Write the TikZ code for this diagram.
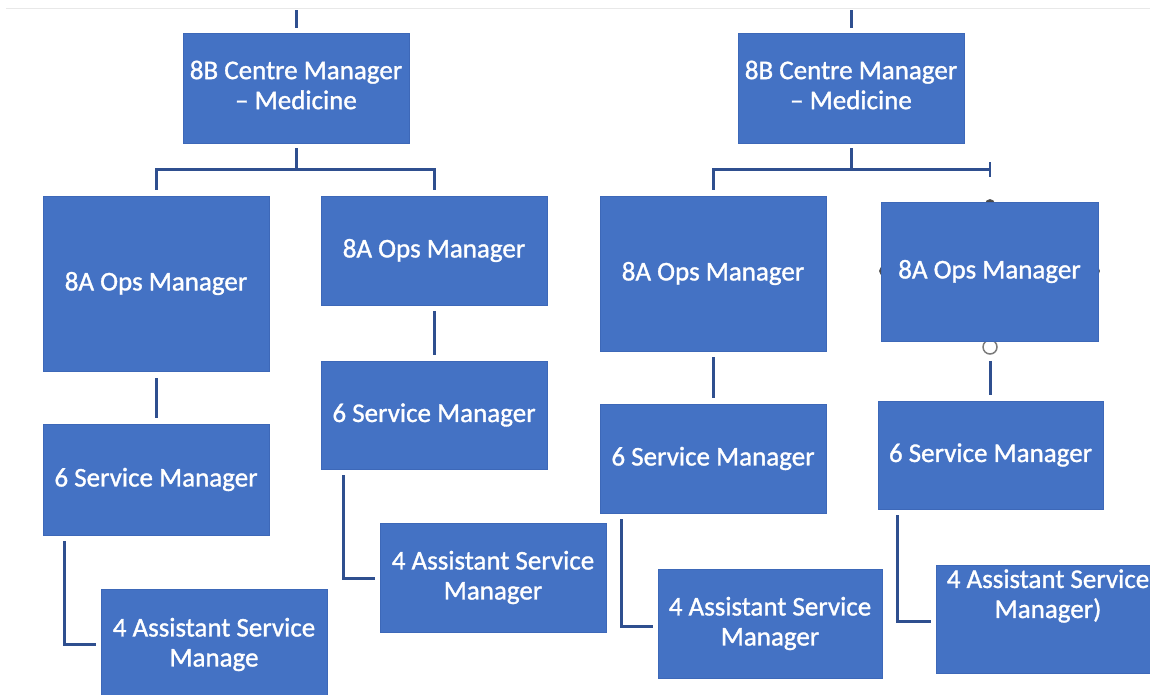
\documentclass[tikz,border=0pt]{standalone}
\usepackage{fontspec}
\setmainfont{Carlito}
\newfontfamily\boxfont{Carlito}[FakeBold=1.2]
\definecolor{boxblue}{HTML}{4472C4}
\definecolor{boxedge}{HTML}{3D68B8}
\definecolor{lineblue}{HTML}{2F4F8F}
\definecolor{handlegray}{HTML}{7A7A7A}
\begin{document}
\begin{tikzpicture}[x=1pt,y=-1pt,
  boxtext/.style={text=white, align=center, font=\fontsize{27}{30}\selectfont\boxfont},
  box/.style={rectangle, fill=boxblue, draw=boxedge, line width=0.8pt, inner sep=0pt, boxtext},
  conn/.style={draw=lineblue, line width=3pt},
  handle/.style={circle, draw=handlegray, fill=white, line width=1.5pt, minimum size=14pt, inner sep=0pt},
  sidehandle/.style={circle, draw=handlegray!70!black, fill=handlegray!60!black, line width=0.8pt, minimum size=9pt, inner sep=0pt}]
\useasboundingbox (0,0) rectangle (1150,695);
\clip (0,0) rectangle (1150,695);
\fill[white] (0,0) rectangle (1150,695);
% faint top edge
\draw[gray!18, line width=1pt] (6,9) -- (1150,9);

% selection handles (behind box)
\node[sidehandle] (h1) at (990,204) {};
\node[handle] (h2) at (990,347) {};
\node[sidehandle] (h3) at (884,271) {};
\node[sidehandle] (h4) at (1095,271) {};

% boxes
\node[box, minimum width=226pt, minimum height=110pt] (lc) at (296,88) {};
\node[boxtext, inner sep=0pt] (lct) at (296,85) {8B Centre Manager\\– Medicine};
\node[box, minimum width=226pt, minimum height=110pt] (rc) at (851,88) {};
\node[boxtext, inner sep=0pt] (rct) at (851,85) {8B Centre Manager\\– Medicine};
\node[box, minimum width=226pt, minimum height=175pt] (lo1) at (156,283.5) {8A Ops Manager};
\node[box, minimum width=226pt, minimum height=109pt] (lo2) at (434,250.5) {8A Ops Manager};
\node[box, minimum width=226pt, minimum height=155pt] (ro1) at (713,273.5) {8A Ops Manager};
\node[box, minimum width=217pt, minimum height=139pt] (ro2) at (989.5,271.5) {8A Ops Manager};
\node[box, minimum width=226pt, minimum height=111pt] (ls1) at (156,479.5) {6 Service Manager};
\node[box, minimum width=226pt, minimum height=108pt] (ls2) at (434,415) {6 Service Manager};
\node[box, minimum width=226pt, minimum height=109pt] (rs1) at (713,458.5) {6 Service Manager};
\node[box, minimum width=225pt, minimum height=108pt] (rs2) at (990.5,455) {6 Service Manager};
\node[box, minimum width=226pt, minimum height=111pt] (la1) at (214,644.5) {4 Assistant Service\\Manage};
\node[box, minimum width=226pt, minimum height=109pt] (la2) at (493,577.5) {4 Assistant Service\\Manager};
\node[box, minimum width=224pt, minimum height=109pt] (ra1) at (770,623.5) {4 Assistant Service\\Manager};
\node[box, minimum width=224pt, minimum height=108pt] (ra2) at (1048,619) {};
\node[boxtext, inner sep=0pt] (ra2t) at (1048,596) {4 Assistant Service\\Manager)};

% top free ends
\coordinate (ltop) at (296,10);
\coordinate (rtop) at (851,10);
\draw[conn, shorten <=5pt] (lc.north) -- (ltop);
\draw[conn, shorten <=5pt] (rc.north) -- (rtop);

% left tree
\coordinate (lbar) at (296,170);
\draw[conn, shorten <=5pt] (lc.south) -- (lbar);
\draw[conn, shorten <=6pt, shorten >=6pt] (lo1.north) |- (lbar) -| (lo2.north);

% right tree
\coordinate (rbar) at (851,170);
\coordinate (rend) at (990,170);
\draw[conn, shorten <=5pt] (rc.south) -- (rbar);
\draw[conn, shorten <=6pt] (ro1.north) |- (rbar) -- (rend);
\draw[draw=lineblue, line width=2.5pt] ([yshift=-7pt]rend) -- ([yshift=8pt]rend);

% ops to service
\draw[conn, shorten <=7pt, shorten >=6pt] (lo1.south) -- (ls1.north);
\draw[conn, shorten <=6pt, shorten >=6pt] (lo2.south) -- (ls2.north);
\draw[conn, shorten <=6pt, shorten >=6pt] (ro1.south) -- (rs1.north);
\draw[conn, shorten <=6pt, shorten >=6pt] (h2.south) -- (h2.south |- rs2.north);

% service to assistant (elbows)
\draw[conn, shorten <=6pt, shorten >=5pt] ([xshift=22pt]ls1.south west) |- (la1.west);
\draw[conn, shorten <=6pt, shorten >=5pt] ([xshift=23pt]ls2.south west) |- ([yshift=-0.5pt]la2.west);
\draw[conn, shorten <=6pt, shorten >=5pt] ([xshift=22pt]rs1.south west) |- ([yshift=-2.5pt]ra1.west);
\draw[conn, shorten <=6pt, shorten >=5pt] ([xshift=20pt]rs2.south west) |- ([yshift=-2pt]ra2.west);
\end{tikzpicture}
\end{document}
